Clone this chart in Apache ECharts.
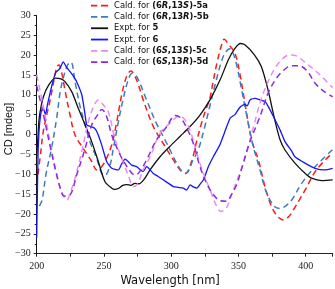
<!DOCTYPE html>
<html><head><meta charset="utf-8">
<script src="https://cdn.jsdelivr.net/npm/echarts@6/dist/echarts.min.js"></script>
<style>html,body{margin:0;padding:0;background:#fff}#c{width:335px;height:289px}</style>
</head><body><div id="c"></div>
<script>
// Series data: [wavelength (nm), CD (mdeg)]
const cald5a = [[201,-10],[203,-4.5],[205,1],[210,8.7],[213,14],[215,17],[216.5,17.5],[218.6,15.5],[221,11.2],[224.8,4.9],[228.5,-0.1],[234.6,-3.5],[240.9,-6.8],[244.6,-8.9],[247,-8.6],[250.8,-6.8],[255.8,-2.6],[259.5,3.2],[263.2,10],[266.8,14.6],[270,16],[274.3,13.7],[279.2,8.7],[286.7,2],[294,-2.2],[301.6,-6.4],[306.6,-8.9],[310.5,-9.8],[315.3,-6.6],[319,-1.6],[322.7,3],[326,6.5],[328.5,8.7],[331,13],[334,18],[337,22],[339.5,24],[342,23],[347.4,20.4],[351,15.4],[354.8,7.9],[359.8,-1.4],[364.8,-6.4],[369.7,-13.1],[374.7,-18.2],[379,-20.6],[383.3,-21.5],[387,-20.8],[390.8,-19],[399.5,-14],[408,-8.9],[420,-4.6]];
const cald5b = [[202,-18],[204,-16.5],[207,-9.8],[211,-3.5],[215,4.5],[217.3,10.4],[220,14.5],[223,17.5],[225.5,18.2],[228.5,13.3],[232,7.4],[236,2.4],[239.6,-1.8],[244.6,-6],[248.3,-9.8],[250.8,-10.3],[254.5,-7.7],[257,-3.5],[260.7,3.2],[264.4,9.1],[268,13.7],[271,15.4],[274.5,14.5],[281.7,8.7],[289,2.8],[296.7,-2.2],[304,-7.2],[308,-9.3],[311,-9.8],[316,-6.6],[320,-4],[325,2],[329,7.5],[333,13],[337,18],[340,20.5],[343.5,21.6],[346,20.5],[349,17],[352.4,11.2],[357.3,2.8],[361,-3],[366,-8.9],[371,-14.8],[377,-18.2],[381,-18.6],[385,-18],[389.6,-16.5],[397,-12.3],[407,-8.1],[420,-3.8]];
const expt5 = [[200,-6],[201,0],[202,4.5],[205,9.5],[209,12.5],[214,14.2],[218,14],[221,13.3],[226,10.8],[230.9,6.6],[236,2.4],[240.9,-1.8],[245.8,-6.8],[250.8,-11.9],[255.8,-13.5],[258,-13.8],[260.7,-13.6],[264,-12.8],[267,-12.6],[270,-12.8],[273,-12.3],[276,-12.4],[280,-11.2],[284.3,-8.9],[291.7,-5.6],[299,-3],[306.5,-0.5],[314,2],[321.4,4.9],[328.8,8.7],[336.3,13.7],[342.5,18.8],[347,21.5],[351.5,22.9],[355,22.5],[362,20],[367,17.1],[372,11.2],[377,3.7],[381,-1.4],[384.6,-3.9],[392,-7.2],[399.5,-9.75],[404.4,-11],[412,-11.6],[420,-11.4]];
const expt6 = [[200,-26],[200.5,-15],[201,-5],[202,2],[203.5,6],[205,6.5],[206.5,5],[208,7.5],[211,12],[214,15.5],[217,16.5],[219.8,18.3],[222,17],[224.8,15.8],[227,14.8],[229.7,13.3],[233.5,10],[236,4.9],[237.2,2.4],[240,2],[243,1.6],[245,0.5],[248.3,-2.6],[252,-6.8],[255.8,-8.5],[260.7,-8.9],[263,-7.5],[265.7,-6.2],[268,-6.8],[270.6,-7.7],[274.3,-8.1],[279.2,-9.3],[281.7,-8.1],[286.7,-9.8],[290,-10.5],[294,-11.4],[298,-12.3],[301.6,-13.1],[305,-13.3],[309,-13.5],[311.5,-14],[314,-12.7],[316.5,-13.2],[319,-13.5],[321.5,-12.5],[324,-11.4],[327.6,-8.1],[331.3,-5.6],[336.3,-2.5],[341.3,2],[344,4.2],[347.4,5],[351,6.8],[354.8,7.6],[356.5,7.2],[358.6,8.7],[362.3,9.1],[366,8.7],[369.8,8.3],[373.5,6.2],[377.2,3.7],[381,1.1],[384.6,-1.8],[389.6,-4.2],[392,-5.6],[399.5,-7.2],[407,-8.5],[414,-8.9],[420,-8.5]];
const cald5c = [[200,15],[205,7],[210,-2],[215,-10],[219,-14.8],[222.5,-16.5],[224.8,-14.8],[228.5,-11],[233.5,-4.3],[238.4,3.2],[242,6.8],[245.8,8.7],[249,7.6],[253.2,5.8],[258,-0.9],[263.2,-6],[268,-10.2],[272,-13.1],[275,-12.4],[279,-9],[284.3,-5.6],[291.7,0.3],[299,2.8],[306,4.6],[310,3.8],[314,1.1],[319,-4.7],[324,-9.8],[329,-14],[333,-17.5],[337,-19.4],[341,-18.5],[345,-15],[349,-11.5],[353.6,-7.2],[357.3,-3],[362,3],[367,9],[371,12.5],[376,16],[382,18.8],[388,20],[393,19.8],[400,18],[409.4,15.4],[420,11.8]];
const cald5d = [[200,12.3],[205,5],[210,-3],[214,-9],[217.5,-13.5],[220.5,-15.5],[224.8,-15.2],[229.7,-10.2],[236,-3.5],[240.9,2.4],[245,4.8],[248.5,6.3],[252,4.5],[255.8,-0.1],[262,-5.1],[268,-8.5],[273,-10.2],[276,-9.6],[281.7,-6.4],[289,-1.4],[296.7,2],[303,4.8],[307,4.2],[311,2],[316.4,-2.2],[321.4,-8.1],[326.4,-12.3],[331,-15],[336,-16.6],[341,-16.8],[345,-15],[349,-12.3],[353.6,-7.2],[357.3,-3],[360,-0.5],[366,4.5],[372,10.4],[378,14],[384,16.3],[390,17.3],[395,17.3],[401,16],[407,12.9],[413,11],[420,9.5]];

const xTicks = [200, 250, 300, 350, 400];
const yTicks = [-30, -25, -20, -15, -10, -5, 0, 5, 10, 15, 20, 25, 30];
const seriesNames = ['5a', '5b', '5', '6', '5c', '5d'];
const dashedSeries = ['5a', '5b', '5c', '5d'];
const legendLabels = {
  '5a': 'Cald. for {b|(6}{bi|R}{b|,13}{bi|S}{b|)-5a}',
  '5b': 'Cald. for {b|(6}{bi|R}{b|,13}{bi|R}{b|)-5b}',
  '5': 'Expt. for {b|5}',
  '6': 'Expt. for {b|6}',
  '5c': 'Cald. for {b|(6}{bi|S}{b|,13}{bi|S}{b|)-5c}',
  '5d': 'Cald. for {b|(6}{bi|S}{b|,13}{bi|R}{b|)-5d}'
};

const chart = echarts.init(document.getElementById('c'), null, {renderer: 'canvas'});
const tickFont = {fontFamily: 'Liberation Serif', fontSize: 10, color: '#222'};
function mk(name, data, color, dashed, smooth, width) {
  return {
    name: name, type: 'line', data: data, showSymbol: false, symbol: 'none',
    smooth: smooth, animation: false, clip: true,
    lineStyle: {color: color, width: width, type: dashed ? [6, 4] : 'solid'},
    itemStyle: {color: color}
  };
}
const dashIcon = 'path://M0,0h7v2h-7z M11,0h8v2h-8z';
const solidIcon = 'path://M0,0h19v2h-19z';
const lh = 11.3;
chart.setOption({
  animation: false,
  grid: {left: 36.7, right: 2.4, top: 15.3, bottom: 35.3, containLabel: false, outerBoundsMode: 'none'},
  legend: {
    type: 'plain', orient: 'vertical', left: 91, top: 0, itemWidth: 19, itemHeight: 1.8, itemGap: 0,
    padding: 0,
    data: seriesNames.map(n => ({name: n, icon: dashedSeries.includes(n) ? dashIcon : solidIcon})),
    itemStyle: {borderWidth: 0},
    formatter: n => legendLabels[n],
    textStyle: {
      fontFamily: 'DejaVu Sans', fontSize: 8.4, color: '#111', lineHeight: lh,
      rich: {
        b: {fontFamily: 'DejaVu Sans', fontSize: 8.4, fontWeight: 'bold', color: '#111', lineHeight: lh},
        bi: {fontFamily: 'DejaVu Sans', fontSize: 8.4, fontWeight: 'bold', fontStyle: 'italic', color: '#111', lineHeight: lh}
      }
    }
  },
  xAxis: {
    type: 'value', min: 200, max: 420, interval: 25,
    name: 'Wavelength [nm]', nameLocation: 'middle', nameGap: 21, nameMoveOverlap: false,
    nameTextStyle: {fontFamily: 'DejaVu Sans', fontSize: 11.5, color: '#111', padding: [0, 29, 0, 0]},
    axisLine: {onZero: false, lineStyle: {color: '#223', width: 1.2}},
    axisTick: {show: true, inside: false, length: 3, lineStyle: {color: '#222'}},
    axisLabel: Object.assign({margin: 8, formatter: v => xTicks.includes(v) ? String(v) : ''}, tickFont),
    splitLine: {show: false}
  },
  yAxis: {
    type: 'value', min: -30, max: 30, interval: 5,
    name: 'CD [mdeg]', nameLocation: 'middle', nameGap: 22, nameMoveOverlap: false,
    nameTextStyle: {fontFamily: 'Liberation Sans', fontSize: 11, color: '#111', padding: [0, 0, 0, 11]},
    axisLine: {show: true, lineStyle: {color: '#111', width: 1}},
    axisTick: {show: true, inside: false, length: 3, lineStyle: {color: '#222'}},
    minorTick: {show: true, splitNumber: 2, length: 2, lineStyle: {color: '#222'}},
    axisLabel: Object.assign({margin: 6, formatter: v => yTicks.includes(v) ? String(v).replace('-', '\u2212') : ''}, tickFont),
    splitLine: {show: false}
  },
  series: [
    mk('5a', cald5a, '#ff1a1a', true, 0.35, 1.5),
    mk('5b', cald5b, '#3d7cbd', true, 0.35, 1.5),
    mk('5', expt5, '#111111', false, 0.3, 1.3),
    mk('6', expt6, '#1414ff', false, 0.2, 1.3),
    mk('5c', cald5c, '#e98cf2', true, 0.35, 1.5),
    mk('5d', cald5d, '#8a2be2', true, 0.35, 1.5)
  ]
});
</script></body></html>
